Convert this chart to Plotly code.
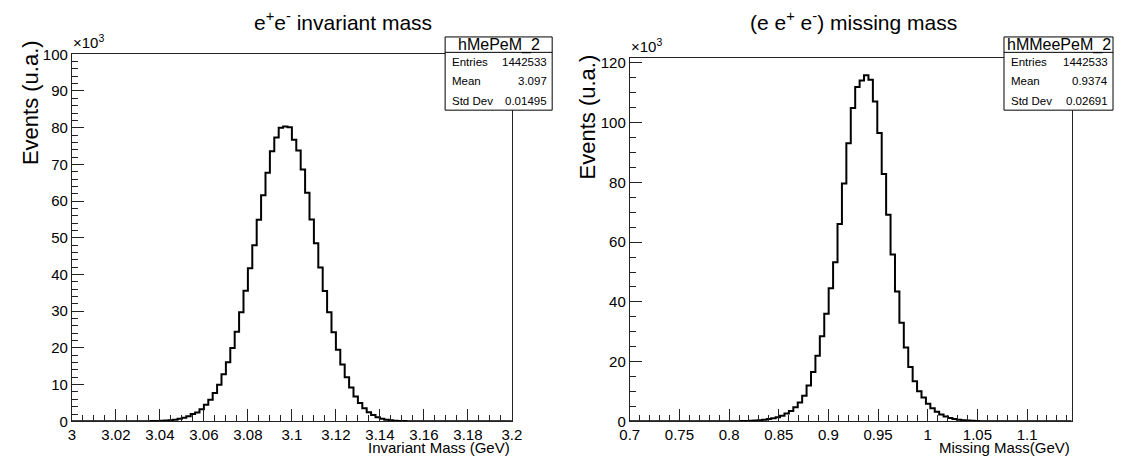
import numpy as np
import plotly.graph_objects as go

W, H = 1124, 465

# ---------------- data (counts in units of 10^3) ----------------
left_range = (3.0, 3.2)
left_nbins = 100
left_counts = [0]*15 + [
    0.02, 0.03, 0.05, 0.07, 0.10, 0.15, 0.22, 0.32, 0.47, 0.68,
    0.98, 1.4, 2.0, 2.4, 3.3, 4.5, 5.9, 7.7, 10.0, 12.8,
    16.1, 20.0, 24.4, 29.7, 35.6, 41.7, 48.0, 54.9, 61.6, 67.7,
    73.6, 77.3, 80.0, 80.3, 80.1, 76.7, 73.8, 68.6, 62.3, 55.0,
    48.5, 41.9, 35.5, 29.7, 24.3, 19.5, 15.5, 12.0, 9.2, 6.8,
    5.0, 3.6, 2.5, 1.7, 1.1, 0.72, 0.46, 0.29, 0.18, 0.11,
    0.07, 0.04, 0.03, 0.02] + [0]*21

right_range = (0.7, 1.145)
right_nbins = 100
right_counts = [0]*21 + [
    0.02, 0.03, 0.05, 0.07, 0.10, 0.14, 0.20, 0.28, 0.40, 0.55,
    0.75, 1.0, 1.4, 1.9, 2.6, 3.5, 4.7, 6.3, 8.6, 12.0,
    16.5, 22.0, 28.5, 36.0, 44.6, 53.3, 66.1, 79.6, 93.1, 104.9,
    111.9, 114.1, 115.9, 114.4, 107.1, 96.5, 82.8, 69.2, 55.9, 43.5,
    33.0, 24.7, 18.2, 13.4, 10.1, 8.0, 5.9, 4.4, 3.2, 2.3,
    1.6, 1.1, 0.8, 0.55, 0.38, 0.26, 0.17, 0.11, 0.07, 0.05,
    0.03, 0.02]
right_counts = right_counts + [0]*(right_nbins - len(right_counts))

left_xticks = [3.0, 3.02, 3.04, 3.06, 3.08, 3.1, 3.12, 3.14, 3.16, 3.18, 3.2]
left_xticktext = ["3", "3.02", "3.04", "3.06", "3.08", "3.1", "3.12", "3.14", "3.16", "3.18", "3.2"]
right_xticks = [0.7, 0.75, 0.8, 0.85, 0.9, 0.95, 1.0, 1.05, 1.1]
right_xticktext = ["0.7", "0.75", "0.8", "0.85", "0.9", "0.95", "1", "1.05", "1.1"]

left_stats = {"name": "hMePeM_2", "Entries": "1442533", "Mean": "3.097", "Std Dev": "0.01495"}
right_stats = {"name": "hMMeePeM_2", "Entries": "1442533", "Mean": "0.9374", "Std Dev": "0.02691"}

left_title = "e<sup>+</sup>e<sup>-</sup> invariant mass"
right_title = "(e e<sup>+</sup> e<sup>-</sup>) missing mass"
left_xtitle = "Invariant Mass (GeV)"
right_xtitle = "Missing Mass(GeV)"
ytitle = "Events (u.a.)"

# ---------------- helpers ----------------
def px(x):
    return x / W

def py(y):
    return 1 - y / H

FONT = "Liberation Sans, Arial, Helvetica, sans-serif"

def step_xy(rng, nb, counts):
    edges = np.linspace(rng[0], rng[1], nb + 1)
    xs = list(edges)
    ys = list(counts) + [counts[-1]]
    return xs, ys

fig = go.Figure()

lx, ly = step_xy(left_range, left_nbins, left_counts)
rx, ry = step_xy(right_range, right_nbins, right_counts)

fig.add_trace(go.Scatter(x=lx, y=ly, mode="lines", line=dict(color="black", width=2, shape="hv"),
                         xaxis="x", yaxis="y", showlegend=False, hoverinfo="skip"))
fig.add_trace(go.Scatter(x=rx, y=ry, mode="lines", line=dict(color="black", width=2, shape="hv"),
                         xaxis="x2", yaxis="y2", showlegend=False, hoverinfo="skip"))

# geometry (pixels)
L = dict(x0=63, x1=511, y0=47, y1=428)
R = dict(x0=631, x1=1081, y0=51, y1=428)

axis_common = dict(showgrid=False, zeroline=False, showline=True, linecolor="#222222", linewidth=1,
                   mirror=True, ticks="inside", tickcolor="#222222", ticklen=12, tickwidth=1,
                   tickfont=dict(family=FONT, size=15, color="black"))

def minor(t0, dt):
    return dict(tickmode="linear", tick0=t0, dtick=dt, ticks="inside", ticklen=6,
                tickcolor="#222222", tickwidth=1)

fig.update_layout(
    width=W, height=H, margin=dict(l=0, r=0, t=0, b=0),
    paper_bgcolor="white", plot_bgcolor="white",
    xaxis=dict(domain=[px(L["x0"]), px(L["x1"])], range=list(left_range), anchor="y",
               tickmode="array", tickvals=left_xticks, ticktext=left_xticktext,
               minor=minor(3.0, 0.005), **axis_common),
    yaxis=dict(domain=[py(L["y1"]), py(L["y0"])], range=[0, 100], anchor="x",
               tickmode="linear", tick0=0, dtick=10, minor=minor(0, 2), **axis_common),
    xaxis2=dict(domain=[px(R["x0"]), px(R["x1"])], range=list(right_range), anchor="y2",
                tickmode="array", tickvals=right_xticks, ticktext=right_xticktext,
                minor=minor(0.7, 0.01), **axis_common),
    yaxis2=dict(domain=[py(R["y1"]), py(R["y0"])], range=[0, 121.6], anchor="x2",
                tickmode="linear", tick0=0, dtick=20, minor=minor(0, 5), **axis_common),
)

annotations = []
shapes = []

def add_text(text, x, y, size, xanchor="center", yanchor="middle", angle=0):
    annotations.append(dict(text=text, x=px(x), y=py(y), xref="paper", yref="paper",
                            xanchor=xanchor, yanchor=yanchor, showarrow=False, textangle=angle,
                            font=dict(family=FONT, size=size, color="black")))

# titles
add_text(left_title, 339, 12, 21)
add_text(right_title, 859, 12, 21)

# y titles
add_text(ytitle, 21, 97, 22, angle=-90)
add_text(ytitle, 588, 112, 22, angle=-90)

# x10^3
add_text("×10<sup>3</sup>", L["x0"] - 1, L["y0"] - 1, 15, xanchor="left", yanchor="bottom")
add_text("×10<sup>3</sup>", R["x0"] - 1, R["y0"] - 1, 15, xanchor="left", yanchor="bottom")

# x titles
add_text(left_xtitle, L["x1"], 455, 15, xanchor="right")
add_text(right_xtitle, R["x1"], 455, 15, xanchor="right")

def stats_box(stats, x0, x1, y0, y1, ysep):
    shapes.append(dict(type="rect", xref="paper", yref="paper", x0=px(x0), x1=px(x1), y0=py(y1), y1=py(y0),
                       line=dict(color="black", width=1), fillcolor="white", layer="above"))
    shapes.append(dict(type="line", xref="paper", yref="paper", x0=px(x0), x1=px(x1), y0=py(ysep), y1=py(ysep),
                       line=dict(color="black", width=1), layer="above"))
    add_text(stats["name"], (x0 + x1) / 2, (y0 + ysep) / 2 + 0.5, 16)
    rows = ["Entries", "Mean", "Std Dev"]
    rh = (y1 - ysep) / 3
    for i, k in enumerate(rows):
        yc = ysep + rh * (i + 0.5)
        add_text(k, x0 + 5, yc, 11.5, xanchor="left")
        add_text(stats[k], x1 - 3, yc, 11.5, xanchor="right")

stats_box(left_stats, 443, 552, 29, 105, 45)
stats_box(right_stats, 1012, 1123, 29, 105, 45)

fig.update_layout(annotations=annotations, shapes=shapes)

fig.write_html("out.html")
